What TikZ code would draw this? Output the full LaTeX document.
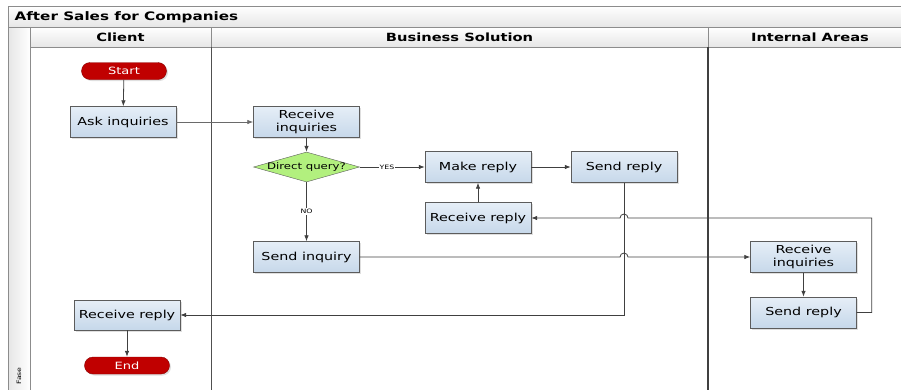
\documentclass[tikz,border=0pt]{standalone}
\usepackage{fontspec}
\setmainfont{DejaVu Sans}[FakeStretch=1.3]
\usepackage{tikz}
\usetikzlibrary{arrows.meta, shapes.geometric, shadows}

\definecolor{boxtop}{HTML}{E6EEF7}
\definecolor{boxbot}{HTML}{C6D8EA}
\definecolor{boxline}{HTML}{5C5C5C}
\definecolor{termred}{HTML}{C00000}
\definecolor{termline}{HTML}{8A0000}
\definecolor{decgreen}{HTML}{B2F07E}
\definecolor{flowline}{HTML}{404040}
\definecolor{flowlight}{HTML}{6A6A6A}
\definecolor{frameline}{HTML}{8C8C8C}
\definecolor{headgray}{HTML}{E6E6E6}
\definecolor{lanedark}{HTML}{505050}

\tikzset{
  proc/.style={draw=boxline, top color=boxtop, bottom color=boxbot,
    minimum width=106pt, minimum height=31pt, inner sep=1pt, align=center,
    font=\fontsize{11}{13}\selectfont,
    drop shadow={opacity=0.25, shadow xshift=1.5pt, shadow yshift=-1.5pt}},
  terminal/.style={draw=termline, fill=termred, rounded corners=8.5pt,
    minimum width=85pt, minimum height=17pt, inner sep=0pt, text=white,
    font=\fontsize{10}{12}\selectfont,
    drop shadow={opacity=0.25, shadow xshift=1.5pt, shadow yshift=-1.5pt}},
  decision/.style={diamond, draw=boxline, fill=decgreen,
    minimum width=106pt, minimum height=30pt, inner sep=0pt},
  flow/.style={draw=flowline, line width=0.8pt, -{Latex[length=6pt,width=4.5pt]}},
  tag/.style={fill=white, inner sep=1pt, font=\fontsize{6}{7}\selectfont},
  bar/.style={draw=frameline, line width=1pt, top color=white, bottom color=headgray},
  divider/.style={draw=lanedark, line width=1pt},
  headtxt/.style={font=\bfseries\fontsize{11.3}{13}\selectfont},
}

\begin{document}
\begin{tikzpicture}[x=1pt, y=-1pt]
  \useasboundingbox (0,0) rectangle (901,389);
  % pool frame and lanes
  \draw[bar] (8,6) rectangle (920,27);
  \node[font=\bfseries\fontsize{11.7}{13}\selectfont, anchor=west] (title) at (11,17) {After Sales for Companies};
  \draw[draw=frameline, line width=1pt, left color=headgray, right color=white] (8,27) rectangle (30,400);
  \node[rotate=90, font=\fontsize{6}{7}\selectfont] (fase) at (19,376) {Fase};
  \draw[bar] (30,27) rectangle (211,47);
  \draw[bar] (211,27) rectangle (708,47);
  \draw[bar] (708,27) rectangle (912,47);
  \node[headtxt] (hclient) at (120.5,37) {Client};
  \node[headtxt] (hbusiness) at (459.5,37) {Business Solution};
  \node[headtxt] (hinternal) at (810,37) {Internal Areas};
  \draw[divider] (211,47) -- (211,400);
  \draw[divider, draw=flowline, line width=1.8pt] (708,47) -- (708,400);

  % steps
  \node[terminal] (start) at (124,71) {Start};
  \node[proc] (ask) at (123,122) {Ask inquiries};
  \node[proc] (recvq) at (306.5,122) {Receive\\inquiries};
  \node[decision, label={[font=\fontsize{9}{11}\selectfont]center:Direct query?}] (direct) at (306.5,167) {};
  \node[proc] (make) at (478,167) {Make reply};
  \node[proc] (send) at (624,167) {Send reply};
  \node[proc] (recvr) at (478,218) {Receive reply};
  \node[proc] (sendq) at (306.5,257) {Send inquiry};
  \node[proc] (arearecv) at (803.5,257) {Receive\\inquiries};
  \node[proc] (areasend) at (803.5,312.5) {Send reply};
  \node[proc, minimum height=30pt] (clientrecv) at (127,315) {Receive reply};
  \node[terminal] (end) at (127,365.5) {End};

  % connectors
  \draw[flow] (start) -- (ask);
  \draw[flow, draw=flowlight] (ask) -- (recvq);
  \draw[flow] (recvq) -- (direct);
  \draw[flow] (direct) -- node[tag, pos=0.42] {YES} (make);
  \draw[flow] (direct) -- node[tag] {NO} (sendq);
  \draw[flow] (make) -- (send);
  \draw[flow] (recvr) -- (make);
  \draw[flow] (send) |- (clientrecv);
  \draw[flow] (sendq) -- ([xshift=-4pt]send.south |- sendq.east)
    arc[start angle=180, end angle=0, radius=4pt] -- (arearecv);
  \draw[flow] (arearecv) -- (areasend);
  \draw[flow] (areasend.east) -- ++(15,0) |- ([xshift=4pt]send.south |- recvr.east)
    arc[start angle=0, end angle=180, radius=4pt] -- (recvr);
  \draw[flow] (clientrecv) -- (end);
\end{tikzpicture}
\end{document}
